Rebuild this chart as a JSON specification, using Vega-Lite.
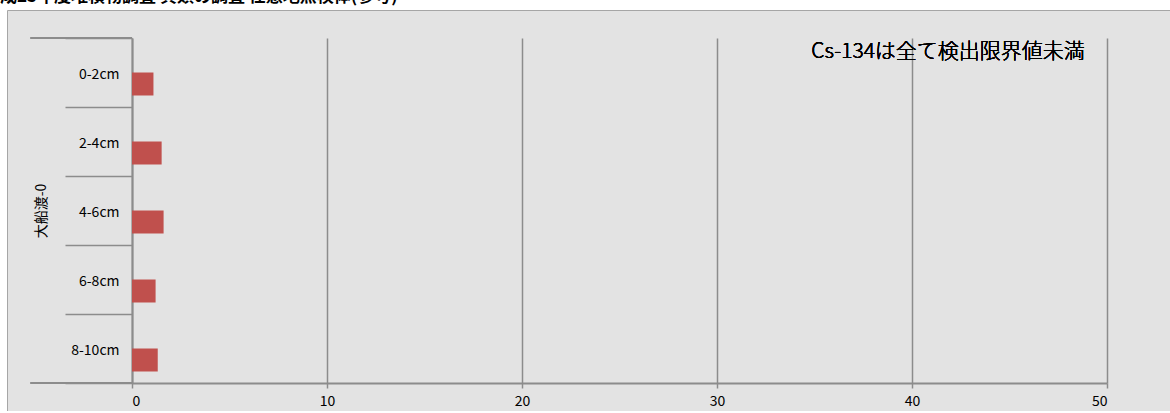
{
  "$schema": "https://vega.github.io/schema/vega-lite/v6.json",
  "width": 1166,
  "height": 401,
  "autosize": {"type": "none"},
  "padding": {"left": 7, "top": 10, "right": 0, "bottom": 0},
  "background": "white",
  "title": {"text": "平成25年度堆積物調査 貝類の調査 任意地点検体(参考)", "anchor": "start", "orient": "top", "fontSize": 17, "fontWeight": "bold", "font": "Noto Sans CJK JP", "color": "#000000", "offset": -20, "baseline": "bottom", "dx": -24},
  "config": {
    "view": {"fill": "#e3e3e3", "stroke": "#a6a6a6", "strokeWidth": 1},
    "font": "Noto Sans CJK JP"
  },
  "data": {"values": [
    {"depth": "0-2cm", "nuclide": "Cs-137", "value": 1.1},
    {"depth": "2-4cm", "nuclide": "Cs-137", "value": 1.52},
    {"depth": "4-6cm", "nuclide": "Cs-137", "value": 1.62},
    {"depth": "6-8cm", "nuclide": "Cs-137", "value": 1.21},
    {"depth": "8-10cm", "nuclide": "Cs-137", "value": 1.32}
  ]},
  "encoding": {
    "x": {"field": "value", "type": "quantitative",
      "scale": {"domain": [0, 50], "range": [125, 1100], "nice": false, "zero": true},
      "axis": {"orient": "bottom", "offset": -28, "values": [0, 10, 20, 30, 40, 50], "grid": true, "gridColor": "#8c8c8c", "gridWidth": 1.5, "domainColor": "#8c8c8c", "domainWidth": 2, "tickColor": "#8c8c8c", "tickSize": 5, "tickWidth": 1.5, "labelFont": "Noto Sans CJK JP", "labelFontSize": 14, "labelFontWeight": "normal", "labelColor": "#000000", "labelPadding": 6, "title": null}},
    "y": {"field": "depth", "type": "nominal", "sort": ["0-2cm", "2-4cm", "4-6cm", "6-8cm", "8-10cm"],
      "scale": {"range": [28, 373], "paddingInner": 0, "paddingOuter": 0},
      "axis": {"title": "大船渡-0", "orient": "left", "offset": -125, "tickBand": "extent", "tickSize": 67, "tickColor": "#8c8c8c", "tickWidth": 1.5, "domainColor": "#8c8c8c", "domainWidth": 2, "labelPadding": -54, "labelOffset": 1.5, "labelFont": "Noto Sans CJK JP", "labelFontSize": 14, "labelColor": "#000000", "labelAlign": "right", "labelBaseline": "middle", "titleFont": "Noto Sans CJK JP", "titleFontSize": 14, "titleFontWeight": "normal", "titleColor": "#000000", "titlePadding": 16, "grid": false}}
  },
  "layer": [
    {
      "mark": {"type": "bar", "color": "#c0504d"},
      "encoding": {
        "yOffset": {"field": "nuclide", "type": "nominal", "scale": {"domain": ["Cs-134", "Cs-137"], "paddingInner": 0, "paddingOuter": 0.5}}
      }
    },
    {
      "mark": {"type": "rule", "color": "#8c8c8c", "strokeWidth": 1.5},
      "encoding": {
        "x": {"datum": -5.2}, "x2": {"datum": 0},
        "y": {"datum": "0-2cm", "type": "nominal", "bandPosition": 0}
      }
    },
    {
      "mark": {"type": "rule", "color": "#8c8c8c", "strokeWidth": 1.5},
      "encoding": {
        "x": {"datum": -5.2}, "x2": {"datum": 0},
        "y": {"datum": "8-10cm", "type": "nominal", "bandPosition": 1}
      }
    },
    {
      "mark": {"type": "text", "font": "Noto Sans CJK JP", "fontSize": 21, "fontWeight": 300, "align": "center", "baseline": "middle", "color": "#000000"},
      "encoding": {
        "x": {"datum": 41.85},
        "y": {"datum": "0-2cm", "type": "nominal", "bandPosition": 0.2},
        "text": {"value": "Cs-134は全て検出限界値未満"}
      }
    }
  ]
}
